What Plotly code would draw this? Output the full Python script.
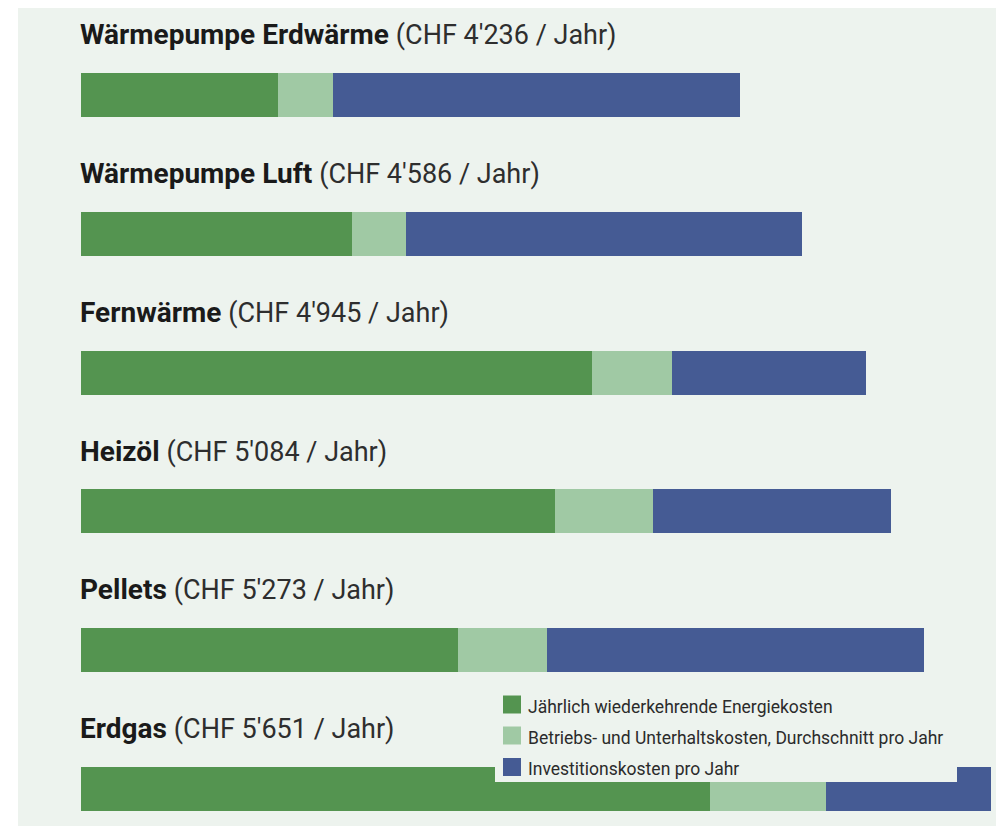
import plotly.graph_objects as go

categories = ["Wärmepumpe Erdwärme", "Wärmepumpe Luft", "Fernwärme", "Heizöl", "Pellets", "Erdgas"]
totals = ["4'236", "4'586", "4'945", "5'084", "5'273", "5'651"]
series_names = [
    "Jährlich wiederkehrende Energiekosten",
    "Betriebs- und Unterhaltskosten, Durchschnitt pro Jahr",
    "Investitionskosten pro Jahr",
]
energie = [1629, 2047, 3399, 3191, 2644, 4065]
betrieb = [310, 304, 451, 552, 502, 654]
invest = [2297, 2235, 1095, 1341, 2127, 932]
colors = ["#549450", "#a0c9a4", "#455b94"]
panel_bg = "#edf3ee"

W, H = 1004, 826
ML = 73
PW = W - ML


def px(x):
    return (x - ML) / PW


def py(y):
    return 1 - y / H


fig = go.Figure()
for name, vals, col in zip(series_names, [energie, betrieb, invest], colors):
    fig.add_trace(go.Bar(
        y=categories, x=vals, orientation="h", name=name,
        marker=dict(color=col, line=dict(width=0)),
        width=0.317, showlegend=False,
    ))

annotations = []
for i, (c, t) in enumerate(zip(categories, totals)):
    annotations.append(dict(
        x=0, xref="paper", xanchor="left", xshift=-3,
        y=i - 0.435, yref="y", yanchor="middle",
        text=f"<b>{c}</b> <span style='font-size:27px;color:#2e2e2e'>(CHF {t} / Jahr)</span>",
        showarrow=False,
        font=dict(family="Roboto", size=28, color="#1a1a1a"),
    ))

shapes = [dict(type="rect", xref="paper", yref="paper",
               x0=px(10), x1=px(W + 20), y0=py(H + 20), y1=1.01,
               fillcolor=panel_bg, line=dict(width=0), layer="below")]

# legend box drawn over the last bar
shapes.append(dict(type="rect", xref="paper", yref="paper",
                   x0=px(487), x1=px(949), y0=py(774), y1=py(678),
                   fillcolor=panel_bg, line=dict(width=0), layer="above"))
leg_centers = [696.5, 727.5, 759]
for name, col, cy in zip(series_names, colors, leg_centers):
    shapes.append(dict(type="rect", xref="paper", yref="paper",
                       x0=px(495), x1=px(513), y0=py(cy + 9), y1=py(cy - 9),
                       fillcolor=col, line=dict(width=0), layer="above"))
    annotations.append(dict(
        x=px(518), xref="paper", xanchor="left",
        y=py(cy + 2), yref="paper", yanchor="middle",
        text=name, showarrow=False,
        font=dict(family="Roboto", size=17.5, color="#2b2b2b"),
    ))

fig.update_layout(
    width=W, height=H,
    margin=dict(l=ML, r=0, t=0, b=0),
    paper_bgcolor="white",
    plot_bgcolor="rgba(0,0,0,0)",
    barmode="stack",
    bargap=0,
    showlegend=False,
    xaxis=dict(range=[519, 519 + PW / 0.1774], visible=False, fixedrange=True),
    yaxis=dict(range=[5 + (H - 87 - 5 * 138.8) / 138.8, -87 / 138.8], visible=False, fixedrange=True),
    annotations=annotations,
    shapes=shapes,
)
fig.write_html("out.html")
